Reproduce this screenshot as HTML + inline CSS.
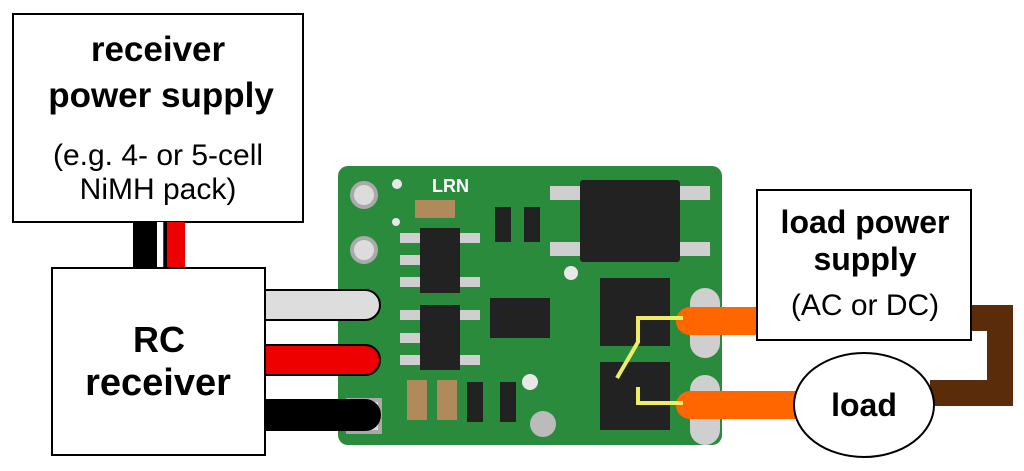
<!DOCTYPE html>
<html><head><style>body{margin:0;background:#fff}svg{display:block}</style></head><body>
<svg width="1024" height="471" viewBox="0 0 1024 471" font-family="Liberation Sans, sans-serif">
<rect x="13" y="14" width="290" height="208" fill="#fff" stroke="#000" stroke-width="2"/>
<text x="158" y="61" font-size="35" font-weight="bold" text-anchor="middle">receiver</text>
<text x="161" y="107" font-size="35" font-weight="bold" text-anchor="middle">power supply</text>
<text x="158" y="165" font-size="30" text-anchor="middle">(e.g. 4- or 5-cell</text>
<text x="158" y="199" font-size="30" text-anchor="middle">NiMH pack)</text>
<rect x="133" y="222" width="24" height="50" fill="#000"/>
<rect x="157" y="222" width="6" height="50" fill="#fff"/>
<rect x="163" y="222" width="22" height="50" fill="#e00"/>
<rect x="164" y="222" width="3" height="50" fill="#000"/>
<rect x="338" y="166" width="384" height="279" rx="10" fill="#2b8b3c"/>
<g fill="#dcdcdc" stroke="#aaa" stroke-width="4">
<circle cx="364" cy="195" r="12"/><circle cx="364" cy="250" r="12"/>
<circle cx="364" cy="304" r="12"/><circle cx="364" cy="360" r="12"/>
<rect x="348" y="400" width="32" height="32"/></g>
<g fill="#e8e8e8"><circle cx="397" cy="184" r="5"/><circle cx="396" cy="222" r="4"/><circle cx="571" cy="273" r="7"/><circle cx="530" cy="382" r="8"/><circle cx="576" cy="193" r="4"/></g>
<g stroke="#000" stroke-width="2">
<path d="M265 290H365a15 15 0 0 1 0 30H265Z" fill="#ddd"/>
<path d="M265 345H365a15 15 0 0 1 0 30H265Z" fill="#e00"/>
<path d="M265 400H365a15 15 0 0 1 0 30H265Z" fill="#000"/></g>
<rect x="52" y="268" width="213" height="187" fill="#fff" stroke="#000" stroke-width="2"/>
<text x="159" y="352" font-size="36" font-weight="bold" text-anchor="middle">RC</text>
<text x="158" y="395" font-size="38" font-weight="bold" text-anchor="middle">receiver</text>
<text x="432" y="192" font-size="18" font-weight="bold" fill="#fff">LRN</text>
<g fill="#222">
<rect x="580" y="180" width="100" height="82" rx="3"/>
<rect x="420" y="228" width="40" height="65"/>
<rect x="420" y="305" width="40" height="65"/>
<rect x="490" y="298" width="60" height="40"/>
<rect x="600" y="278" width="70" height="68"/>
<rect x="600" y="362" width="70" height="68"/>
<rect x="495" y="207" width="16" height="35"/><rect x="524" y="207" width="16" height="35"/>
<rect x="467" y="382" width="16" height="40"/><rect x="500" y="382" width="16" height="40"/></g>
<g fill="#cfcfcf">
<rect x="400" y="233" width="20" height="10"/><rect x="400" y="255" width="20" height="10"/><rect x="400" y="277" width="20" height="10"/>
<rect x="460" y="233" width="20" height="10"/><rect x="460" y="277" width="20" height="10"/>
<rect x="400" y="310" width="20" height="10"/><rect x="400" y="333" width="20" height="10"/><rect x="400" y="355" width="20" height="10"/>
<rect x="460" y="310" width="20" height="10"/><rect x="460" y="355" width="20" height="10"/>
<rect x="550" y="186" width="30" height="14"/><rect x="680" y="186" width="30" height="14"/>
<rect x="550" y="242" width="30" height="14"/><rect x="680" y="242" width="30" height="14"/>
<rect x="690" y="288" width="30" height="70" rx="15"/><rect x="690" y="375" width="30" height="70" rx="15"/></g>
<rect x="415" y="200" width="40" height="18" fill="#b08a5a"/>
<rect x="407" y="380" width="20" height="40" fill="#b08a5a"/><rect x="437" y="380" width="20" height="40" fill="#b08a5a"/>
<circle cx="543" cy="424" r="13" fill="#bbb"/>
<path d="M690 321H757" stroke="#f60" stroke-width="28" stroke-linecap="round"/>
<path d="M690 405H800" stroke="#f60" stroke-width="28" stroke-linecap="round"/>
<path d="M965 318H1000V393H930" stroke="#5a2c0a" stroke-width="26" fill="none"/>
<path d="M683 318H638V342L617 378M683 403H638V387" stroke="#ee6" stroke-width="4" fill="none"/>
<rect x="757" y="190" width="214" height="150" fill="#fff" stroke="#000" stroke-width="2"/>
<text x="865" y="233" font-size="32" font-weight="bold" text-anchor="middle">load power</text>
<text x="865" y="270" font-size="32" font-weight="bold" text-anchor="middle">supply</text>
<text x="865" y="315" font-size="30" text-anchor="middle">(AC or DC)</text>
<ellipse cx="864" cy="405" rx="70" ry="52" fill="#fff" stroke="#000" stroke-width="2"/>
<text x="864" y="416" font-size="32" font-weight="bold" text-anchor="middle">load</text>
</svg></body></html>
